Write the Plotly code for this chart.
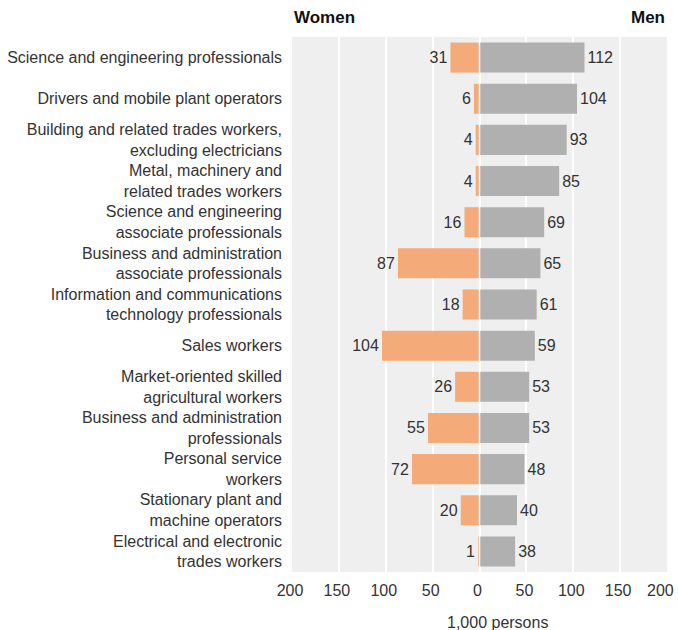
import plotly.graph_objects as go

occupations = [
    "Science and engineering professionals",
    "Drivers and mobile plant operators",
    "Building and related trades workers,<br>excluding electricians",
    "Metal, machinery and<br>related trades workers",
    "Science and engineering<br>associate professionals",
    "Business and administration<br>associate professionals",
    "Information and communications<br>technology professionals",
    "Sales workers",
    "Market-oriented skilled<br>agricultural workers",
    "Business and administration<br>professionals",
    "Personal service<br>workers",
    "Stationary plant and<br>machine operators",
    "Electrical and electronic<br>trades workers",
]
women = [31, 6, 4, 4, 16, 87, 18, 104, 26, 55, 72, 20, 1]
men = [112, 104, 93, 85, 69, 65, 61, 59, 53, 53, 48, 40, 38]

tick_vals = [-200, -150, -100, -50, 0, 50, 100, 150, 200]
tick_text = ["200", "150", "100", "50", "0", "50", "100", "150", "200"]

font = "Liberation Sans, Arial, sans-serif"
txt = "#333333"

fig = go.Figure()
fig.add_trace(go.Bar(
    y=occupations, x=[-w for w in women], orientation="h",
    marker=dict(color="#f4ab79", line=dict(width=0)),
    text=[str(w) for w in women], textposition="outside",
    textfont=dict(size=16, color=txt), cliponaxis=False,
    width=0.73, name="Women",
))
fig.add_trace(go.Bar(
    y=occupations, x=men, orientation="h",
    marker=dict(color="#b0b0b0", line=dict(width=0)),
    text=[str(m) for m in men], textposition="outside",
    textfont=dict(size=16, color=txt), cliponaxis=False,
    width=0.73, name="Men",
))

# white line at zero separating the two sides
fig.add_shape(type="line", x0=0, x1=0, y0=0, y1=1, yref="paper",
              line=dict(color="white", width=1.5), layer="above")

fig.add_annotation(text="<b>Women</b>", x=0, y=1, xref="paper", yref="paper",
                   xanchor="left", yanchor="bottom", yshift=8, showarrow=False,
                   font=dict(size=17, color="#111111"))
fig.add_annotation(text="<b>Men</b>", x=1, y=1, xref="paper", yref="paper",
                   xanchor="right", yanchor="bottom", yshift=8, showarrow=False,
                   font=dict(size=17, color="#111111"))
fig.add_annotation(text="1,000 persons", x=0.547, y=0, xref="paper", yref="paper",
                   xanchor="center", yanchor="top", yshift=-40, showarrow=False,
                   font=dict(size=16, color=txt))
# the right-most tick label is pulled in so it stays on the page
fig.add_annotation(text=tick_text[-1], x=1, y=0, xref="paper", yref="paper",
                   xanchor="right", yanchor="middle", xshift=9, yshift=-18,
                   showarrow=False, font=dict(size=16, color=txt))

fig.update_layout(
    width=678, height=630,
    margin=dict(l=292, r=11, t=37, b=58),
    barmode="overlay",
    showlegend=False,
    paper_bgcolor="white",
    plot_bgcolor="#efefef",
    font=dict(family=font, size=16, color=txt),
    xaxis=dict(range=[-200, 200], tickvals=tick_vals,
               ticktext=tick_text[:-1] + [""],
               showgrid=True, gridcolor="white", gridwidth=2,
               zeroline=False, automargin=False,
               ticklabelshift=-2, ticklabelstandoff=7,
               tickfont=dict(size=16, color=txt)),
    yaxis=dict(autorange="reversed", showgrid=False, zeroline=False,
               ticks="", ticklabelstandoff=9, automargin=False,
               tickfont=dict(size=16, color=txt)),
)

fig.write_html("out.html", config={"displayModeBar": False},
               post_script="document.body.style.margin='0';")
